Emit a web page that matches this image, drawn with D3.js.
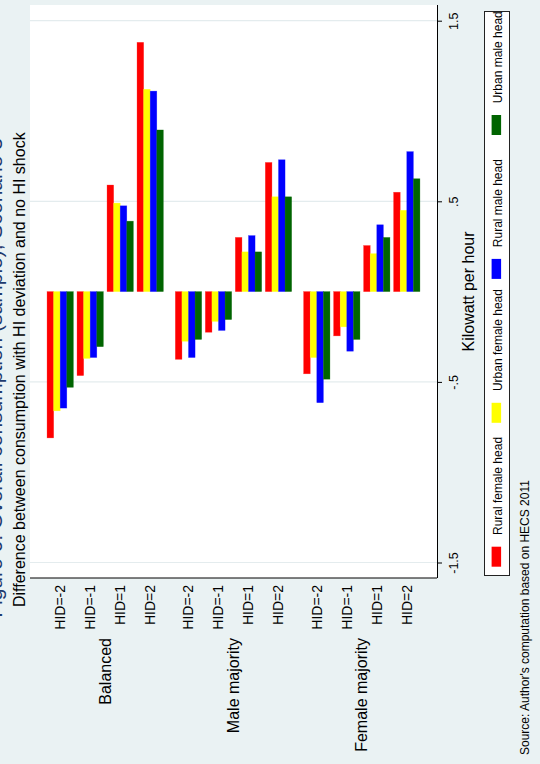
<!DOCTYPE html>
<html>
<head>
<meta charset="utf-8">
<script src="https://cdn.jsdelivr.net/npm/d3@7"></script>
<style>
  html, body { margin: 0; padding: 0; background: #EAF2F3; }
  svg { display: block; font-family: "Liberation Sans", Arial, Helvetica, sans-serif; }
</style>
</head>
<body>
<svg id="chart" width="540" height="764"></svg>
<script>
// ---- data ----
const groups = ["Balanced", "Male majority", "Female majority"];
const hidLevels = ["HID=-2", "HID=-1", "HID=1", "HID=2"];
const seriesNames = ["Rural female head", "Urban female head", "Rural male head", "Urban male head"];

// one value per (group, HID level), in group order then HID order
const ruralFemale = [-0.81, -0.465, 0.59, 1.38, -0.375, -0.225, 0.30, 0.715, -0.455, -0.245, 0.255, 0.55];
const urbanFemale = [-0.66, -0.37, 0.49, 1.12, -0.275, -0.165, 0.22, 0.525, -0.365, -0.195, 0.21, 0.45];
const ruralMale   = [-0.645, -0.365, 0.475, 1.11, -0.365, -0.215, 0.31, 0.73, -0.615, -0.33, 0.37, 0.775];
const urbanMale   = [-0.53, -0.305, 0.39, 0.895, -0.265, -0.155, 0.22, 0.525, -0.485, -0.265, 0.30, 0.625];

const tickValues = [-1.5, -0.5, 0.5, 1.5];
const tickLabels = ["-1.5", "-.5", ".5", "1.5"];

const titleText = "Figure 6: Overall consumption (sample), Scenario 3";
const subtitleText = "Difference between consumption with HI deviation and no HI shock";
const axisTitleText = "Kilowatt per hour";
const noteText = "Source: Author's computation based on HECS 2011";

// ---- styling / layout ----
const seriesValues = [ruralFemale, urbanFemale, ruralMale, urbanMale];
const seriesColors = ["#FF0000", "#FFFF00", "#0000FF", "#006400"];
const bg = "#EAF2F3";
const gridColor = "#E4ECEE";

const svg = d3.select("#chart");
svg.append("rect").attr("width", 540).attr("height", 764).attr("fill", bg);

// plot region (chart is laid out sideways: categories run left→right, values bottom→top)
const plot = { left: 30, right: 437, top: 5, bottom: 578 };
svg.append("rect")
  .attr("x", plot.left).attr("y", plot.top)
  .attr("width", plot.right - plot.left).attr("height", plot.bottom - plot.top)
  .attr("fill", "#fff");

const y = d3.scaleLinear().domain([-1.5, 1.5]).range([562.5, 20.7]);

const gx = d3.scaleBand().domain(groups).range([plot.left, plot.right])
  .paddingInner(0.0935).paddingOuter(0.133);
const cx = d3.scaleBand().domain(hidLevels).range([0, gx.bandwidth()])
  .paddingInner(0.123).paddingOuter(0);
const sx = d3.scaleBand().domain(seriesNames).range([0, cx.bandwidth()]).padding(0);

// grid lines
svg.append("g").selectAll("line").data(tickValues).join("line")
  .attr("x1", plot.left).attr("x2", plot.right)
  .attr("y1", d => y(d)).attr("y2", d => y(d))
  .attr("stroke", gridColor).attr("stroke-width", 1.2);

// bars
const barData = [];
groups.forEach((g, gi) => {
  hidLevels.forEach((h, hi) => {
    seriesNames.forEach((s, si) => {
      barData.push({ g, h, s, si, v: seriesValues[si][gi * hidLevels.length + hi] });
    });
  });
});
svg.append("g").selectAll("rect").data(barData).join("rect")
  .attr("x", d => gx(d.g) + cx(d.h) + sx(d.s))
  .attr("width", sx.bandwidth())
  .attr("y", d => y(Math.max(0, d.v)))
  .attr("height", d => Math.abs(y(d.v) - y(0)))
  .attr("fill", d => seriesColors[d.si])
  .attr("stroke", d => seriesColors[d.si])
  .attr("stroke-opacity", 0.45)
  .attr("stroke-width", 0.6);

// axis lines
svg.append("line")
  .attr("x1", plot.left).attr("x2", plot.right)
  .attr("y1", plot.bottom).attr("y2", plot.bottom)
  .attr("stroke", "#000").attr("stroke-width", 1);

// value axis on the right
const axis = d3.axisRight(y).tickValues(tickValues)
  .tickFormat((d, i) => tickLabels[i]).tickSize(5).tickSizeOuter(0);
const axG = svg.append("g").attr("transform", `translate(${plot.right},0)`).call(axis);
axG.select(".domain").attr("d", `M0.5,${plot.top}V${plot.bottom}`).attr("stroke", "#000");
axG.selectAll(".tick line").attr("stroke", "#000");
axG.selectAll(".tick text")
  .attr("x", null).attr("dy", "0.35em")
  .attr("transform", "translate(17,0) rotate(-90)")
  .attr("text-anchor", "middle")
  .attr("font-size", 12.5)
  .attr("font-family", "Liberation Sans, Arial, sans-serif")
  .attr("fill", "#000");

// helper for text that reads bottom-to-top
function vtext(x, yPos, str, opts) {
  const o = Object.assign({ anchor: "middle", size: 14, dy: "0.35em", fill: "#000" }, opts || {});
  return svg.append("text")
    .attr("transform", `translate(${x},${yPos}) rotate(-90)`)
    .attr("text-anchor", o.anchor)
    .attr("dy", o.dy)
    .attr("font-size", o.size)
    .attr("fill", o.fill)
    .text(str);
}

// category labels
groups.forEach(g => {
  hidLevels.forEach(h => {
    vtext(gx(g) + cx(h) + cx.bandwidth() / 2, 585, h, { anchor: "end", size: 14 });
  });
  vtext(gx(g) + gx.bandwidth() / 2, 638, g, { anchor: "end", size: 16 });
});

// axis title
vtext(468, (plot.top + plot.bottom) / 2, axisTitleText, { size: 16 });

// titles (the main title sits mostly past the left edge of the page)
vtext(1.5, 378, titleText, { size: 21, dy: 0, fill: "#1E3A6E" });
vtext(25, 607, subtitleText, { anchor: "start", size: 16, dy: 0 });

// legend
const legendBox = { x: 484, y: 11, w: 25, h: 564 };
svg.append("rect")
  .attr("x", legendBox.x + 0.5).attr("y", legendBox.y + 0.5)
  .attr("width", legendBox.w).attr("height", legendBox.h)
  .attr("fill", "#fff").attr("stroke", "#222").attr("stroke-width", 1);
const legendPitch = 143.9;
const swatchH = 20, swatchW = 9.5;
seriesNames.forEach((s, i) => {
  const bottom = 566.7 - i * legendPitch;
  svg.append("rect")
    .attr("x", 491.6).attr("y", bottom - swatchH)
    .attr("width", swatchW).attr("height", swatchH)
    .attr("fill", seriesColors[i]);
  vtext(502, bottom - swatchH - 11.7, s, { anchor: "start", size: 12, dy: 0 });
});

// note
vtext(528.5, 755, noteText, { anchor: "start", size: 12, dy: 0 });
</script>
</body>
</html>
